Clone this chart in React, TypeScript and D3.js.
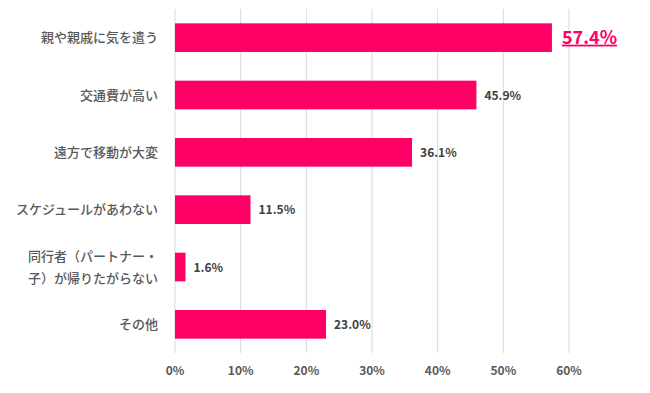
import * as d3 from "d3";
import { useEffect, useRef } from "react";

const categories = [
    "親や親戚に気を遣う",
    "交通費が高い",
    "遠方で移動が大変",
    "スケジュールがあわない",
    "同行者（パートナー・\n子）が帰りたがらない",
    "その他",
];
const values = [57.4, 45.9, 36.1, 11.5, 1.6, 23.0];
const tickValues = [0, 10, 20, 30, 40, 50, 60];

const svgWidth = 650;
const svgHeight = 393;
const chartLeft = 175;
const chartRight = 569;
const chartTop = 9;
const chartBottom = 353;
const barColor = "#FF0066";
const textColor = "#595959";
const fontFamily = "'Noto Sans CJK JP', 'Noto Sans', sans-serif";

export default function App() {
    const svgRef = useRef<SVGSVGElement>(null);

    useEffect(() => {
        if (svgRef.current) {
            drawChart();
        }
    }, [svgRef]);

    const drawChart = () => {
        const svg = d3.select(svgRef.current);
        svg.selectAll("*").remove();

        const scaleX = d3.scaleLinear().domain([0, 60]).range([chartLeft, chartRight]);
        const scaleY = d3
            .scaleBand()
            .domain(categories)
            .range([chartTop, chartBottom])
            .paddingInner(0.5)
            .paddingOuter(0.25);

        // vertical grid lines
        svg.append("g")
            .selectAll("line")
            .data(tickValues)
            .join("line")
            .attr("x1", (d) => scaleX(d))
            .attr("x2", (d) => scaleX(d))
            .attr("y1", chartTop)
            .attr("y2", chartBottom)
            .attr("stroke", "#d9d9d9")
            .attr("stroke-width", 1);

        // x tick labels
        svg.append("g")
            .selectAll("text")
            .data(tickValues)
            .join("text")
            .attr("x", (d) => scaleX(d))
            .attr("y", 375)
            .attr("text-anchor", "middle")
            .attr("font-family", fontFamily)
            .attr("font-size", 12)
            .attr("font-weight", "bold")
            .attr("fill", textColor)
            .text((d) => d + "%");

        // bars
        svg.append("g")
            .selectAll("rect")
            .data(values)
            .join("rect")
            .attr("x", scaleX(0))
            .attr("y", (d, i) => scaleY(categories[i])!)
            .attr("width", (d) => scaleX(d) - scaleX(0))
            .attr("height", scaleY.bandwidth())
            .attr("fill", barColor);

        // category labels
        const labels = svg
            .append("g")
            .selectAll("text")
            .data(categories)
            .join("text")
            .attr("text-anchor", "end")
            .attr("font-family", fontFamily)
            .attr("font-size", 13)
            .attr("font-weight", 500)
            .attr("fill", textColor);
        labels.each(function (d) {
            const lines = d.split("\n");
            const cy = scaleY(d)! + scaleY.bandwidth() / 2;
            const lineGap = 22;
            lines.forEach((line, j) => {
                d3.select(this)
                    .append("tspan")
                    .attr("x", 158)
                    .attr("y", cy + (j - (lines.length - 1) / 2) * lineGap + 4.5)
                    .text(line);
            });
        });

        // value labels
        svg.append("g")
            .selectAll("text")
            .data(values)
            .join("text")
            .attr("x", (d, i) => scaleX(d) + (i === 0 ? 10 : 8))
            .attr("y", (d, i) => scaleY(categories[i])! + scaleY.bandwidth() / 2 + (i === 0 ? 6 : 4.5))
            .attr("font-family", fontFamily)
            .attr("font-size", (d, i) => (i === 0 ? 18 : 12))
            .attr("font-weight", "bold")
            .attr("fill", (d, i) => (i === 0 ? barColor : "#404040"))
            .attr("text-decoration", (d, i) => (i === 0 ? "underline" : "none"))
            .text((d) => d.toFixed(1) + "%");
    };

    return (
        <svg
            ref={svgRef}
            width={svgWidth}
            height={svgHeight}
            style={{ position: "absolute", left: 0, top: 0, background: "#ffffff" }}
        />
    );
}
